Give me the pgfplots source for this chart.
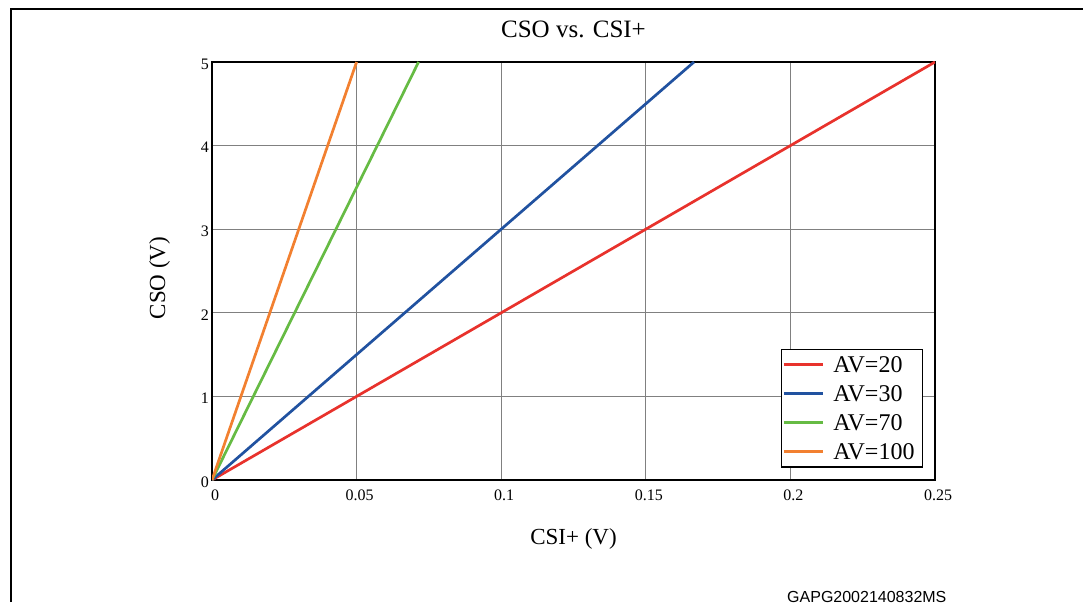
\documentclass[border=0pt]{standalone}
\usepackage{pgfplots}
\pgfplotsset{compat=1.18}
\usepackage{fontspec}
\setmainfont{Liberation Serif}
\newfontfamily\footfont{Liberation Sans}
\definecolor{cred}{RGB}{232,50,44}
\definecolor{cblue}{RGB}{33,82,160}
\definecolor{cgreen}{RGB}{102,187,68}
\definecolor{corange}{RGB}{242,128,48}
\begin{document}
\begin{tikzpicture}[x=1pt,y=1pt]
\path[use as bounding box] (0,0) rectangle (1083,602);
\draw[line width=2.5pt] (11,0) -- (11,593) -- (1083,593);
\begin{axis}[
  at={(212pt,122pt)}, anchor=south west,
  scale only axis, width=723pt, height=418pt,
  xmin=0, xmax=0.25, ymin=0, ymax=5,
  xtick={0,0.05,0.1,0.15,0.2,0.25},
  xticklabels={0,0.05,0.1,0.15,0.2,0.25},
  ytick={0,1,2,3,4,5},
  yticklabels={0,1,2,3,4,5},
  major tick length=0pt,
  grid=major,
  major grid style={draw=black!50, line width=1.2pt},
  axis line style={line width=1.5pt, black},
  /pgf/number format/assume math mode=true,
  tick label style={font=\fontsize{16}{19}\selectfont, inner sep=0pt},
  xticklabel style={anchor=north, yshift=-10pt, xshift=3pt},
  yticklabel style={anchor=east, xshift=-3pt, yshift=-2pt},
  title={CSO vs. CSI+},
  title style={font=\fontsize{25}{29}\selectfont, at={(0.5,1)}, anchor=base, yshift=18pt, inner sep=0pt},
  xlabel={CSI+ (V)},
  xlabel style={font=\fontsize{23}{27}\selectfont, at={(0.5,0)}, anchor=base, yshift=-64pt, inner sep=0pt},
  ylabel={CSO (V)},
  ylabel style={font=\fontsize{23}{27}\selectfont, at={(axis description cs:-0.065,0.483)}, anchor=base, rotate=0, inner sep=0pt},
  legend cell align=left,
  legend style={at={(0.9834,0.3134)}, anchor=north east, draw=black, line width=1.2pt,
    inner xsep=1pt, inner ysep=0.75pt, row sep=0pt,
    font=\fontsize{24}{28}\selectfont,
    nodes={inner sep=0pt, text width=88pt, align=left, text height=21.8pt, text depth=7.2pt}},
  legend image code/.code={\draw[#1] (0pt,0pt) -- (39pt,0pt); \path (48pt,0pt);},
  legend image post style={line width=3pt},
]
\addplot[cred, line width=2.7pt] coordinates {(0,0) (0.25,5)};
\addlegendentry{AV=20}
\addplot[cblue, line width=2.7pt] coordinates {(0,0) (0.16667,5)};
\addlegendentry{AV=30}
\addplot[cgreen, line width=2.7pt] coordinates {(0,0) (0.07143,5)};
\addlegendentry{AV=70}
\addplot[corange, line width=2.7pt] coordinates {(0,0) (0.05,5)};
\addlegendentry{AV=100}
\end{axis}
\node[anchor=north west, inner sep=0pt, font=\footfont\fontsize{16}{19}\selectfont] at (787,11) {GAPG2002140832MS};
\end{tikzpicture}
\end{document}
